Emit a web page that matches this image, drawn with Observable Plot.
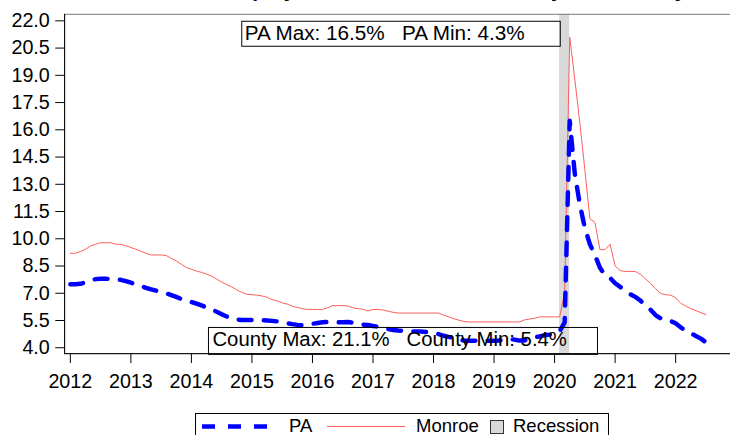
<!DOCTYPE html>
<html><head><meta charset="utf-8">
<script src="https://cdn.jsdelivr.net/npm/d3@7"></script>
<script src="https://cdn.jsdelivr.net/npm/@observablehq/plot@0.6"></script>
<style>
html,body{margin:0;padding:0;background:#fff;}
#wrap{position:relative;width:730px;height:435px;overflow:hidden;font-family:"Liberation Sans",Arial,sans-serif;}
#title{position:absolute;left:194px;top:-21px;font-weight:bold;font-size:21px;line-height:21px;white-space:nowrap;color:#000;}
#chart{position:absolute;left:0;top:0;}
#legend{position:absolute;left:0;top:405px;}
</style></head>
<body><div id="wrap"><div id="chart"></div><div id="title">Unemployment Rate, Monroe County and Pennsylvania</div><div id="legend"></div></div>
<script>
// Monthly series, January 2012 through July 2022 (percent)
const startYear = 2012;
const monroe = [
 9.2,9.2,9.3,9.42,9.6,9.7,9.78,9.78,9.78,9.7,9.69,9.62,
 9.52,9.42,9.31,9.2,9.11,9.11,9.11,9.08,8.92,8.78,8.6,8.42,
 8.32,8.22,8.15,8.05,7.95,7.78,7.62,7.48,7.35,7.18,7.05,6.94,
 6.92,6.9,6.85,6.78,6.65,6.58,6.47,6.4,6.28,6.22,6.15,6.11,
 6.11,6.11,6.11,6.2,6.32,6.32,6.32,6.3,6.2,6.15,6.12,6.02,
 6.1,6.11,6.08,6.01,5.95,5.91,5.91,5.91,5.91,5.91,5.91,5.91,
 5.91,5.91,5.8,5.7,5.6,5.52,5.45,5.42,5.42,5.42,5.42,5.42,
 5.42,5.42,5.42,5.42,5.42,5.42,5.53,5.58,5.62,5.7,5.7,5.7,
 5.7,5.7,7.0,21.1,18.8,16.4,13.8,11.1,10.9,9.4,9.4,9.7,
 8.5,8.25,8.2,8.2,8.2,8.05,7.8,7.55,7.25,7.0,6.92,6.9,
 6.75,6.45,6.3,6.15,6.05,5.93,5.83
];
const pa = [
 7.5,7.5,7.52,7.6,7.7,7.78,7.8,7.8,7.78,7.76,7.74,7.67,
 7.58,7.5,7.4,7.3,7.22,7.14,7.06,7.0,6.9,6.8,6.68,6.6,
 6.52,6.43,6.33,6.22,6.12,5.98,5.85,5.72,5.6,5.55,5.53,5.53,
 5.53,5.53,5.52,5.5,5.48,5.45,5.4,5.35,5.3,5.26,5.24,5.26,
 5.32,5.36,5.4,5.42,5.42,5.4,5.4,5.42,5.38,5.32,5.27,5.25,
 5.2,5.16,5.1,5.03,4.98,4.95,4.93,4.9,4.9,4.9,4.88,4.85,
 4.8,4.75,4.66,4.6,4.55,4.45,4.4,4.38,4.38,4.4,4.4,4.38,
 4.38,4.4,4.45,4.48,4.45,4.4,4.4,4.5,4.58,4.62,4.68,4.72,
 4.78,4.9,5.4,16.5,13.6,11.9,10.6,9.7,9.1,8.4,8.0,7.85,
 7.55,7.35,7.15,6.95,6.8,6.6,6.35,6.1,5.8,5.62,5.5,5.47,
 5.35,5.12,4.95,4.8,4.65,4.5,4.3
];
const recessionStart = "2020-02";
const recessionEnd = "2020-04";
const xTicks = [2012,2013,2014,2015,2016,2017,2018,2019,2020,2021,2022];
const yTicks = [4.0,5.5,7.0,8.5,10.0,11.5,13.0,14.5,16.0,17.5,19.0,20.5,22.0];
const legendItems = ["PA","Monroe","Recession"];

const toYear = s => { const [y,m] = s.split("-").map(Number); return y + (m-1)/12; };
const rows = pa.map((v,i)=>({t: startYear + i/12, pa: v, monroe: monroe[i]}));
const recession = [{start: toYear(recessionStart), end: toYear(recessionEnd)}];
const xDomain = [2011.9055, 2022.906];
const yDomain = [3.675, 22.36];
const sp = "\u00a0\u00a0\u00a0";
const paLabel = `PA Max: ${d3.max(pa).toFixed(1)}%${sp}PA Min: ${d3.min(pa).toFixed(1)}%`;
const coLabel = `County Max: ${d3.max(monroe).toFixed(1)}%${sp}County Min: ${d3.min(monroe).toFixed(1)}%`;

const chart = Plot.plot({
  width: 740, height: 405,
  marginLeft: 65, marginRight: 0, marginTop: 14, marginBottom: 47,
  x: {domain: xDomain},
  y: {domain: yDomain},
  style: {fontFamily: "'Liberation Sans', Arial, sans-serif", fontSize: "20px", color: "black", background: "white", overflow: "visible"},
  marks: [
    Plot.rect(recession, {x1: "start", x2: "end", fill: "#d9d9d9"}),
    Plot.line(rows, {x: "t", y: "monroe", stroke: "#ff5a5a", strokeWidth: 1}),
    Plot.line(rows, {x: "t", y: "pa", stroke: "#0000ff", strokeWidth: 4.5, strokeDasharray: "13,12.5"}),
    Plot.frame({stroke: "#777"}),
    Plot.ruleX([xDomain[0]], {stroke: "black"}),
    Plot.ruleY([yDomain[0]], {stroke: "black"}),
    Plot.axisY({ticks: yTicks, tickFormat: d => d.toFixed(1), tickSize: 9, tickPadding: 6, label: null, stroke: "black"}),
    Plot.axisX({ticks: xTicks, tickFormat: d => String(d), tickSize: 10, tickPadding: 11, label: null, stroke: "black"}),
    Plot.text([paLabel], {text: d => d, frameAnchor: "top", lineAnchor: "middle", dy: 19.6, dx: -13, fill: "black", fontSize: 21}),
    Plot.text([coLabel], {text: d => d, frameAnchor: "bottom", lineAnchor: "middle", dy: -13.9, dx: -8, fill: "black", fontSize: 20.6})
  ]
});
document.getElementById("chart").appendChild(chart);

// boxes around the two annotations (same local transform as the text)
const pads = new Map([[paLabel, {l: 3, r: 36, t: 0, b: 2}], [coLabel, {l: 4, r: 31, t: 1, b: 4}]]);
d3.select(chart).selectAll("text").filter(function() {
  return pads.has(this.textContent);
}).each(function() {
  const p = pads.get(this.textContent);
  const bb = this.getBBox();
  const r = d3.select(this.parentNode).insert("rect", ":first-child")
    .attr("x", bb.x - p.l).attr("y", bb.y - p.t)
    .attr("width", bb.width + p.l + p.r).attr("height", bb.height + p.t + p.b)
    .attr("fill", "none").attr("stroke", "black").attr("stroke-width", 1);
  const tr = this.getAttribute("transform");
  if (tr) r.attr("transform", tr);
});

// legend
const lg = d3.select("#legend").append("svg").attr("width", 730).attr("height", 30)
  .style("font-family", "'Liberation Sans', Arial, sans-serif").style("font-size", "18.5px");
lg.append("rect").attr("x", 195.5).attr("y", 8.5).attr("width", 413).attr("height", 40)
  .attr("fill", "white").attr("stroke", "black");
lg.append("line").attr("x1", 202).attr("x2", 268).attr("y1", 21.5).attr("y2", 21.5)
  .attr("stroke", "#0000ff").attr("stroke-width", 4.5).attr("stroke-dasharray", "13,13");
lg.append("text").attr("x", 289).attr("y", 26.5).text(legendItems[0]);
lg.append("line").attr("x1", 327).attr("x2", 405).attr("y1", 21.5).attr("y2", 21.5)
  .attr("stroke", "#ff5a5a").attr("stroke-width", 1);
lg.append("text").attr("x", 416).attr("y", 26.5).text(legendItems[1]);
lg.append("rect").attr("x", 490.5).attr("y", 15.5).attr("width", 13).attr("height", 13)
  .attr("fill", "#d9d9d9").attr("stroke", "#333");
lg.append("text").attr("x", 513).attr("y", 26.5).text(legendItems[2]);
</script>
</body></html>
